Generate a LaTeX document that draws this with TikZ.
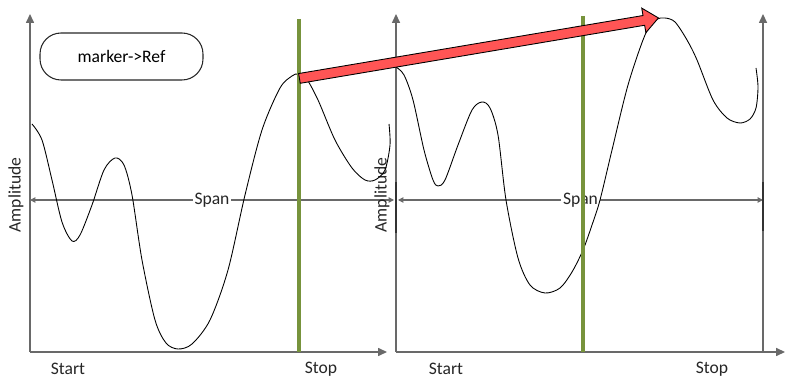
\documentclass[tikz,border=0pt]{standalone}
\usepackage{fontspec}
\setmainfont{Carlito}
\usetikzlibrary{arrows.meta, positioning, shapes.arrows, calc}
\definecolor{axisgray}{RGB}{105,105,105}
\definecolor{markergreen}{RGB}{119,147,60}
\definecolor{refred}{RGB}{255,85,85}

\begin{document}
\begin{tikzpicture}[x=0.02cm, y=-0.02cm,
    axis/.style={draw=axisgray, line width=0.7pt, -{Triangle[length=5pt, width=4.5pt]}},
    spanline/.style={draw=axisgray, line width=0.6pt, {Triangle[length=3pt, width=3pt]}-{Triangle[length=3pt, width=3pt]}},
    spanbar/.style={draw=black!80, line width=1.2pt},
    marker/.style={draw=markergreen, line width=1.8pt},
    trace/.style={draw=black, line width=0.5pt},
    label/.style={font=\fontsize{10}{12}\selectfont, text=black!85, inner sep=1pt},
    refbox/.style={draw=black!85, line width=0.6pt, rounded corners=0.42cm, minimum width=3.26cm, minimum height=0.94cm, font=\fontsize{10}{12}\selectfont},
    refarrow/.style={single arrow, draw=black, line width=0.5pt, fill=refred, inner xsep=0pt, inner ysep=0.09cm, single arrow head extend=0.15cm, single arrow tip angle=80, anchor=tail}
]
\useasboundingbox (0,0) rectangle (786,377);

% Left panel axes
\coordinate (o1) at (30,352);
\coordinate (ytop1) at (30,14);
\coordinate (xend1) at (387,352);
\draw[axis] (o1) -- (ytop1);
\draw[axis] (o1) -- (xend1);

% Right panel axes
\coordinate (o2) at (396,352);
\coordinate (ytop2) at (396,14);
\coordinate (xend2) at (785,352);
\coordinate (base3) at (763,352);
\coordinate (ytop3) at (763,14);
\draw[axis] (o2) -- (ytop2);
\draw[axis] (o2) -- (xend2);
\draw[axis] (base3) -- (ytop3);

% Span arrows
\coordinate (spanA1) at (30,200);
\coordinate (spanB1) at (394,200);
\coordinate (spanA2) at (398,200);
\coordinate (spanB2) at (763,200);
\draw[spanline] (spanA1) -- node[label, fill=white] (span1) {Span} (spanB1);
\draw[spanline] (spanA2) -- node[label, fill=white] (span2) {Span} (spanB2);
\draw[spanbar] (396,182) -- (396,233);
\draw[spanbar] (763,182) -- (763,231);

% Axis labels
\node[label, rotate=90] (amp1) at (16,195) {Amplitude};
\node[label, rotate=90] (amp2) at (382,195) {Amplitude};
\node[label] (start1) at (68,369) {Start};
\node[label] (stop1) at (321,369) {Stop};
\node[label] (start2) at (446,369) {Start};
\node[label] (stop2) at (712,369) {Stop};

% Traces
\draw[trace] plot[smooth, tension=0.5] coordinates {
    (32,124) (42,140) (52,180) (62,222) (72,241) (80,235) (92,205) (104,170)
    (115,158) (124,165) (132,195) (142,260) (155,320) (166,343) (178,349)
    (192,344) (210,320) (228,270) (245,195) (262,130) (280,88) (292,76)
    (298,74) (306,78) (318,100) (335,140) (352,168) (365,180) (375,180)
    (385,170) (390,145) (389,124)};
\draw[trace] plot[smooth, tension=0.5] coordinates {
    (396,67) (404,75) (413,100) (424,150) (433,180) (438,186) (445,180)
    (458,145) (472,110) (482,102) (490,108) (498,135) (506,200) (518,258)
    (530,285) (545,293) (560,288) (572,272) (583,250) (592,225) (600,200)
    (612,150) (628,85) (645,35) (656,20) (665,18) (675,22) (687,40) (697,60)
    (713,100) (727,118) (740,123) (750,119) (756,108) (758,87) (756,68)};

% Markers
\draw[marker] (299,19) -- (299,352);
\draw[marker] (583,16) -- (583,352);

% Marker to reference arrow
\coordinate (peakL) at (299,78.5);
\coordinate (peakR) at (658,18);
\path let \p1=($(peakR)-(peakL)$), \n1={atan2(\y1,\x1)}, \n2={veclen(\x1,\y1)} in
    node[refarrow, minimum height=\n2, rotate=\n1] (toref) at (peakL) {};

% Label box
\node[refbox] (refnote) at (121.5,56.5) {marker->Ref};

\end{tikzpicture}
\end{document}
